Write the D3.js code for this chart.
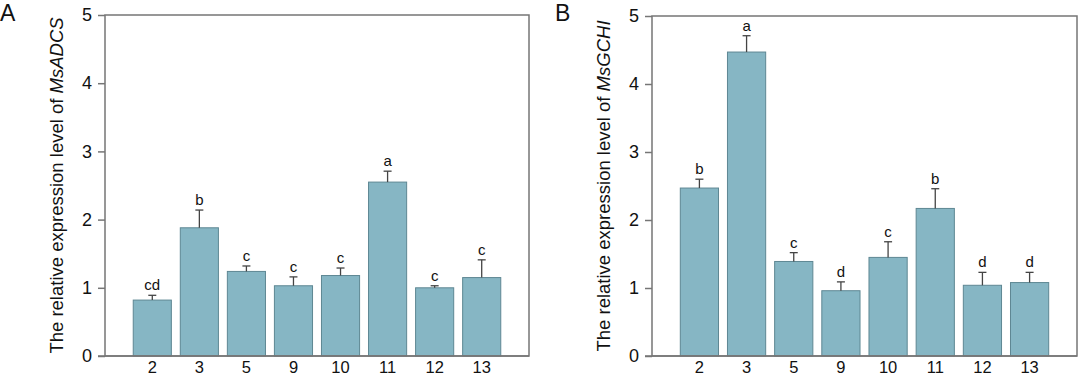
<!DOCTYPE html>
<html>
<head>
<meta charset="utf-8">
<script src="https://cdn.jsdelivr.net/npm/d3@7"></script>
<style>
  html, body { margin: 0; padding: 0; background: #fff; }
  svg { display: block; font-family: 'Liberation Sans', Arial, sans-serif; }
</style>
</head>
<body>
<svg id="chart" width="1080" height="377"></svg>
<script>
// Categories shared by both panels
const stages = ['2', '3', '5', '9', '10', '11', '12', '13'];
const yTicks = [0, 1, 2, 3, 4, 5];

// Panel A: MsADCS
const adcsMean = [0.82, 1.88, 1.24, 1.03, 1.18, 2.55, 1.00, 1.15];
const adcsErr = [0.07, 0.26, 0.08, 0.13, 0.11, 0.16, 0.03, 0.26];
const adcsLetters = ['cd', 'b', 'c', 'c', 'c', 'a', 'c', 'c'];

// Panel B: MsGCHI
const gchiMean = [2.47, 4.47, 1.39, 0.96, 1.45, 2.17, 1.04, 1.08];
const gchiErr = [0.13, 0.24, 0.13, 0.13, 0.23, 0.29, 0.19, 0.15];
const gchiLetters = ['b', 'a', 'c', 'd', 'c', 'b', 'd', 'd'];

const color = {
  bar: '#86b6c4',
  barStroke: '#5e8793',
  axis: '#767676',
  text: '#111',
};

const svg = d3.select('#chart');

function drawPanel(opts) {
  const { left, top, width, height, label, gene, means, errs, letters } = opts;

  const g = svg.append('g').attr('transform', `translate(${left}, ${top})`);

  const x = d3.scaleBand().domain(stages).range([0, width]).paddingInner(0.19).paddingOuter(0.6);
  const y = d3.scaleLinear().domain([0, 5]).range([height, 0]);

  const data = stages.map((s, i) => ({ stage: s, value: means[i], err: errs[i], letter: letters[i] }));

  // Bars
  g.selectAll('rect.bar')
    .data(data)
    .join('rect')
    .attr('class', 'bar')
    .attr('x', (d) => x(d.stage))
    .attr('width', x.bandwidth())
    .attr('y', (d) => y(d.value))
    .attr('height', (d) => y(0) - y(d.value))
    .attr('fill', color.bar)
    .attr('stroke', color.barStroke)
    .attr('stroke-width', 1);

  // Error bars (upper only)
  const err = g.selectAll('g.err').data(data).join('g').attr('class', 'err')
    .attr('transform', (d) => `translate(${x(d.stage) + x.bandwidth() / 2}, 0)`);
  err.append('line')
    .attr('y1', (d) => y(d.value))
    .attr('y2', (d) => y(d.value + d.err))
    .attr('stroke', '#444')
    .attr('stroke-width', 1.3);
  err.append('line')
    .attr('x1', -4).attr('x2', 4)
    .attr('y1', (d) => y(d.value + d.err))
    .attr('y2', (d) => y(d.value + d.err))
    .attr('stroke', '#444')
    .attr('stroke-width', 1.3);

  // Significance letters
  g.selectAll('text.sig')
    .data(data)
    .join('text')
    .attr('class', 'sig')
    .attr('x', (d) => x(d.stage) + x.bandwidth() / 2)
    .attr('y', (d) => y(d.value + d.err) - 5)
    .attr('text-anchor', 'middle')
    .attr('font-size', 15)
    .attr('fill', color.text)
    .text((d) => d.letter);

  // Frame (top, right, left)
  g.append('rect')
    .attr('width', width)
    .attr('height', height)
    .attr('fill', 'none')
    .attr('stroke', color.axis)
    .attr('stroke-width', 1.5);

  // y axis
  const yAxis = g.append('g').call(d3.axisLeft(y).tickValues(yTicks).tickSize(7).tickPadding(6).tickFormat(d3.format('d')));
  yAxis.select('.domain').remove();
  yAxis.selectAll('.tick line').attr('stroke', color.axis).attr('stroke-width', 1.5);
  yAxis.selectAll('.tick text').attr('font-size', 18).attr('fill', color.text).attr('font-family', null);

  // x axis (labels only, baseline extends to the tick)
  const xAxis = g.append('g').attr('transform', `translate(0, ${height})`)
    .call(d3.axisBottom(x).tickSize(0).tickPadding(5));
  xAxis.select('.domain').remove();
  xAxis.selectAll('.tick text').attr('font-size', 16.5).attr('fill', color.text).attr('font-family', null);
  g.append('line')
    .attr('x1', -7).attr('x2', width)
    .attr('y1', height).attr('y2', height)
    .attr('stroke', color.axis)
    .attr('stroke-width', 1.5);

  // y axis title
  const title = g.append('text')
    .attr('transform', `translate(-42, ${height / 2}) rotate(-90)`)
    .attr('text-anchor', 'middle')
    .attr('font-size', 18.5)
    .attr('fill', color.text);
  title.append('tspan').text('The relative expression level of ');
  title.append('tspan').attr('font-style', 'italic').text(gene);

  // Panel label
  svg.append('text')
    .attr('x', left + opts.labelDx)
    .attr('y', 21)
    .attr('font-size', 23)
    .attr('fill', color.text)
    .text(label);
}

drawPanel({
  left: 105, top: 15, width: 424, height: 341,
  label: 'A', labelDx: -105, gene: 'MsADCS',
  means: adcsMean, errs: adcsErr, letters: adcsLetters,
});

drawPanel({
  left: 652, top: 16, width: 425, height: 340,
  label: 'B', labelDx: -97, gene: 'MsGCHI',
  means: gchiMean, errs: gchiErr, letters: gchiLetters,
});
</script>
</body>
</html>
